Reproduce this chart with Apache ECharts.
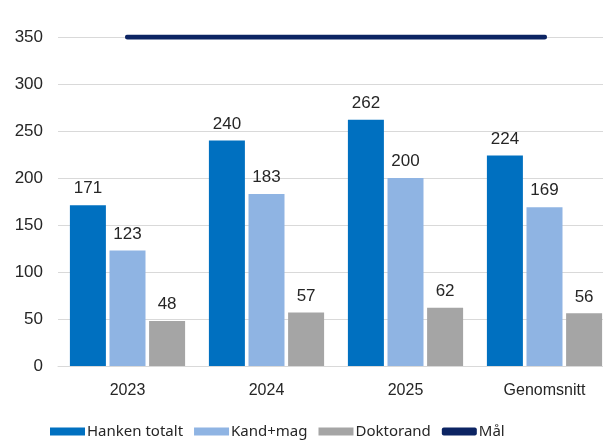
<!DOCTYPE html>
<html>
<head>
<meta charset="utf-8">
<script src="https://cdn.jsdelivr.net/npm/echarts@6/dist/echarts.min.js"></script>
<style>
  html, body { margin: 0; padding: 0; background: #fff; }
  #chart { width: 603px; height: 441px; }
</style>
</head>
<body>
<div id="chart"></div>
<script>
// data
var categories = ["2023", "2024", "2025", "Genomsnitt"];
var hankenTotalt = [171, 240, 262, 224];
var kandMag = [123, 183, 200, 169];
var doktorand = [48, 57, 62, 56];
var mal = [350, 350, 350, 350];
var yTicks = { min: 0, max: 350, interval: 50 };

var chart = echarts.init(document.getElementById("chart"));

var labelStyle = {
    show: true,
    position: "top",
    distance: 8,
    fontFamily: "Liberation Sans",
    fontSize: 17,
    color: "#262626"
};

var option = {
    animation: false,
    grid: { left: 58, width: 556, top: 37, height: 329, outerBoundsMode: "none", containLabel: false },
    legend: {
        top: 419,
        left: 45,
        itemWidth: 35,
        itemHeight: 8,
        itemGap: 11,
        textStyle: { fontFamily: "Noto Sans", fontSize: 15, color: "#262626", padding: [0, 0, 0, -3] },
        data: [
            { name: "Hanken totalt", icon: "rect" },
            { name: "Kand+mag", icon: "rect" },
            { name: "Doktorand", icon: "rect" },
            { name: "Mål", icon: "roundRect" }
        ]
    },
    xAxis: {
        type: "category",
        data: categories,
        axisTick: { show: false },
        axisLine: { lineStyle: { color: "#d9d9d9" } },
        axisLabel: { fontFamily: "Liberation Sans", fontSize: 16, color: "#262626", margin: 17 }
    },
    yAxis: {
        type: "value",
        min: yTicks.min,
        max: yTicks.max,
        interval: yTicks.interval,
        axisLabel: { fontFamily: "Liberation Sans", fontSize: 17, color: "#262626", margin: 15 },
        splitLine: { lineStyle: { color: "#d9d9d9" } }
    },
    series: [
        {
            name: "Hanken totalt",
            type: "bar",
            data: hankenTotalt,
            barWidth: 36,
            barGap: "10%",
            itemStyle: { color: "#0070c0" },
            label: labelStyle
        },
        {
            name: "Kand+mag",
            type: "bar",
            data: kandMag,
            barWidth: 36,
            itemStyle: { color: "#8fb4e3" },
            label: labelStyle
        },
        {
            name: "Doktorand",
            type: "bar",
            data: doktorand,
            barWidth: 36,
            itemStyle: { color: "#a5a5a5" },
            label: labelStyle
        },
        {
            name: "Mål",
            type: "line",
            data: mal,
            symbol: "none",
            lineStyle: { color: "#0c2463", width: 5, cap: "round" },
            itemStyle: { color: "#0c2463" }
        }
    ]
};

chart.setOption(option);
</script>
</body>
</html>
